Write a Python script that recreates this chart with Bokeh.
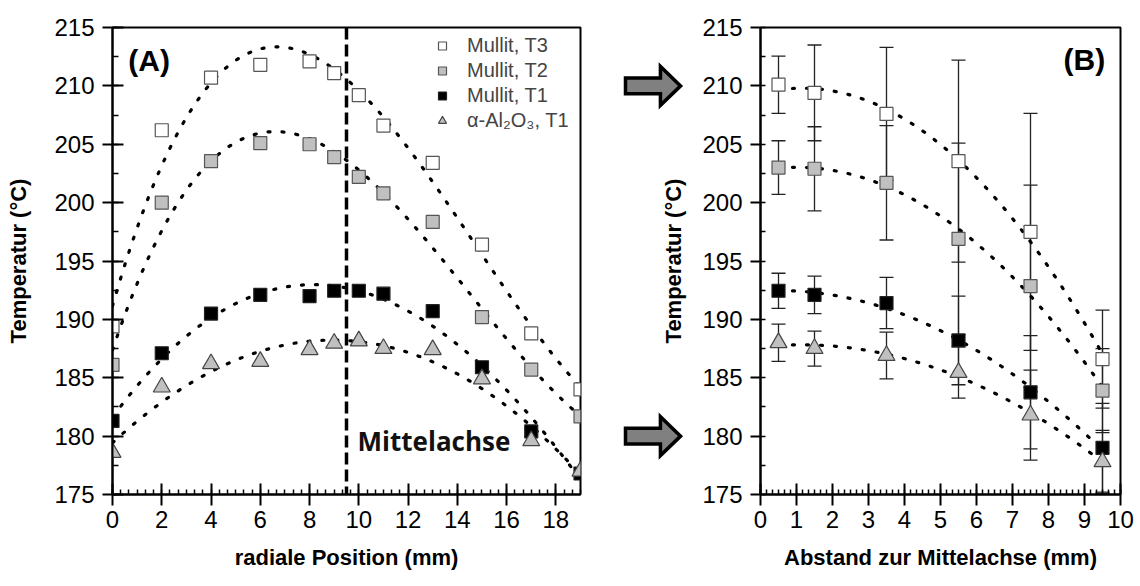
import numpy as np
from bokeh.plotting import figure
from bokeh.layouts import row
from bokeh.models import (Range1d, Whisker, ColumnDataSource, TeeHead, Label, Legend,
                          LegendItem, Span, SingleIntervalTicker)
from bokeh.core.properties import value
from bokeh.embed import file_html
from bokeh.resources import INLINE

# ---------------- data: panel A (radial profile) ----------------
pos_mm = [0, 2, 4, 6, 8, 9, 10, 11, 13, 15, 17, 19]
a_mullit_t3 = [189.4, 206.2, 210.7, 211.8, 212.1, 211.1, 209.2, 206.6, 203.4, 196.4, 188.8, 184.0]
a_mullit_t2 = [186.1, 200.0, 203.55, 205.1, 205.0, 203.9, 202.2, 200.8, 198.35, 190.2, 185.7, 181.7]
a_mullit_t1 = [181.3, 187.1, 190.5, 192.1, 192.0, 192.45, 192.45, 192.2, 190.7, 185.9, 180.4, 176.8]
a_alox_t1 = [178.6, 184.2, 186.2, 186.4, 187.4, 187.95, 188.15, 187.5, 187.4, 184.9, 179.6, 177.0]
centre_axis_mm = 9.5

# ---------------- data: panel B (distance to centre axis) ----------------
dist_mm = [0.5, 1.5, 3.5, 5.5, 7.5, 9.5]
b_mullit_t3 = [210.1, 209.4, 207.6, 203.55, 197.5, 186.6]
b_mullit_t2 = [203.0, 202.9, 201.7, 196.9, 192.85, 183.9]
b_mullit_t1 = [192.45, 192.1, 191.4, 188.2, 183.75, 179.0]
b_alox_t1 = [188.0, 187.5, 186.9, 185.45, 181.8, 177.8]
e_mullit_t3 = [2.45, 4.1, 5.7, 8.65, 10.15, 4.2]
e_mullit_t2 = [2.3, 3.6, 4.9, 8.2, 8.65, 3.6]
e_mullit_t1 = [1.5, 1.6, 2.2, 3.8, 4.85, 3.8]
e_alox_t1 = [1.6, 1.5, 2.0, 2.2, 3.85, 2.7]

labels = ["Mullit, T3", "Mullit, T2", "Mullit, T1", "\u03b1-Al\u2082O\u2083, T1"]
y_title = "Temperatur (\u00b0C)"
arrow_levels = [210, 180]

FONT = "Liberation Sans"
fills = ["white", "#c0c0c0", "black", "#c0c0c0"]
markers = ["square", "square", "square", "triangle"]
sizes = [13, 13, 13, 17]
outl = ["#555555", "#555555", "#222222", "#444444"]


def style(p, xint, ymaj_in):
    p.grid.visible = False
    p.outline_line_color = "black"
    p.outline_line_width = 2
    p.background_fill_color = "white"
    p.border_fill_color = "white"
    for ax in (p.xaxis[0], p.yaxis[0]):
        ax.axis_line_width = 2
        ax.major_tick_line_width = 2
        ax.minor_tick_line_width = 1.5
        ax.major_label_text_font = FONT
        ax.major_label_text_font_size = "24px"
        ax.major_label_text_color = "black"
        ax.axis_label_text_font = FONT
        ax.axis_label_text_font_style = "bold"
        ax.axis_label_text_font_size = "22px"
        ax.axis_label_text_color = "black"
    p.yaxis.ticker = SingleIntervalTicker(interval=5, num_minor_ticks=2)
    p.xaxis.ticker = SingleIntervalTicker(interval=xint, num_minor_ticks=6)
    p.xaxis.major_tick_out = 11
    p.xaxis.major_tick_in = 11
    p.xaxis.minor_tick_in = 5
    p.xaxis.minor_tick_out = 0
    p.xaxis.major_label_standoff = 5
    p.xaxis.axis_label_standoff = 14
    p.yaxis.major_tick_out = 10
    p.yaxis.major_tick_in = ymaj_in
    p.yaxis.minor_tick_in = 6
    p.yaxis.minor_tick_out = 0
    p.yaxis.major_label_standoff = 8


def dotted(p, xs, ys, deg):
    coef = np.polyfit(xs, ys, deg)
    xx = np.linspace(min(xs), max(xs), 300)
    p.line(xx, np.polyval(coef, xx), line_color="black", line_width=3.2,
           line_dash="2 12", line_cap="round")


# ---------------- panel A ----------------
pA = figure(width=600, height=586, x_range=Range1d(0, 19), y_range=Range1d(175, 215),
            output_backend="svg", toolbar_location=None,
            min_border_left=112, min_border_right=20, min_border_top=27, min_border_bottom=92)
style(pA, 2, 11)
pA.xaxis.axis_label = "radiale Position (mm)"
pA.yaxis.axis_label = y_title
pA.yaxis.axis_label_standoff = 20

a_series = [a_mullit_t3, a_mullit_t2, a_mullit_t1, a_alox_t1]
for ys in a_series:
    dotted(pA, pos_mm, ys, 3)

pA.add_layout(Span(location=centre_axis_mm, dimension="height", line_color="black",
                   line_width=3.5, line_dash="12 5"))

items = []
for ys, f, m, s, o, lab in zip(a_series, fills, markers, sizes, outl, labels):
    r = pA.scatter(pos_mm, ys, marker=m, size=s, fill_color=f, line_color=o, line_width=1.2)
    items.append(LegendItem(label=lab, renderers=[r]))

leg = Legend(items=items, location=(320, 361), glyph_width=20, glyph_height=25,
             label_height=25, spacing=0, padding=0, margin=0, label_standoff=15,
             label_text_font=FONT, label_text_font_size="20px",
             border_line_alpha=0, background_fill_alpha=0)
pA.add_layout(leg)

pA.add_layout(Label(x=0.64, y=212.2, text="(A)", text_font=FONT, text_font_style="bold",
                    text_font_size="30px", text_baseline="middle", text_color="black"))
pA.add_layout(Label(x=9.95, y=179.6, text="Mittelachse", text_font="Open Sans",
                    text_font_style="bold", text_font_size="26px", text_baseline="middle",
                    text_color="#111111"))

# ---------------- middle strip: arrows and the y title of panel B ----------------
# x units of this strip are those of panel B (mm), continued to the left of its frame
pM = figure(width=95, height=586, x_range=Range1d(-4.444, -1.806), y_range=Range1d(175, 215),
            output_backend="svg", toolbar_location=None, x_axis_type=None, y_axis_type=None,
            min_border_left=0, min_border_right=0, min_border_top=27, min_border_bottom=92)
pM.grid.visible = False
pM.outline_line_color = None
pM.background_fill_color = "white"
pM.border_fill_color = "white"
ax_list, ay_list = [], []
for lvl in arrow_levels:
    ax_list.append([-3.75, -2.78, -2.78, -2.22, -2.78, -2.78, -3.75])
    ay_list.append([lvl - 0.68, lvl - 0.68, lvl - 1.67, lvl, lvl + 1.67, lvl + 0.68, lvl + 0.68])
pM.patches(ax_list, ay_list, fill_color="#808080", line_color="black", line_width=3.5,
           line_join="miter")
pM.text(x=[-2.42], y=[195], text=[y_title], angle=np.pi / 2, text_align="center",
        text_baseline="middle", text_font=value(FONT), text_font_style="bold",
        text_font_size="22px", text_color="black")

# ---------------- panel B ----------------
pB = figure(width=445, height=586, x_range=Range1d(0, 10), y_range=Range1d(175, 215),
            output_backend="svg", toolbar_location=None,
            min_border_left=65, min_border_right=20, min_border_top=27, min_border_bottom=92)
style(pB, 1, 0)
pB.xaxis.axis_label = "Abstand zur Mittelachse (mm)"
pB.yaxis.minor_tick_in = 5

b_series = [b_mullit_t3, b_mullit_t2, b_mullit_t1, b_alox_t1]
b_err = [e_mullit_t3, e_mullit_t2, e_mullit_t1, e_alox_t1]
for ys in b_series:
    dotted(pB, dist_mm, ys, 2)

for ys, es in zip(b_series, b_err):
    src = ColumnDataSource(dict(x=dist_mm,
                                lo=[v - e for v, e in zip(ys, es)],
                                hi=[v + e for v, e in zip(ys, es)]))
    w = Whisker(source=src, base="x", lower="lo", upper="hi", line_color="#222222",
                line_width=1.3,
                lower_head=TeeHead(size=14, line_color="#222222", line_width=1.3),
                upper_head=TeeHead(size=14, line_color="#222222", line_width=1.3))
    pB.add_layout(w)

for ys, f, m, s, o in zip(b_series, fills, markers, sizes, outl):
    pB.scatter(dist_mm, ys, marker=m, size=s, fill_color=f, line_color=o, line_width=1.2)

pB.add_layout(Label(x=8.42, y=212.3, text="(B)", text_font=FONT, text_font_style="bold",
                    text_font_size="30px", text_baseline="middle", text_color="black"))

layout = row(pA, pM, pB)
open("out.html", "w").write(file_html(layout, INLINE))
